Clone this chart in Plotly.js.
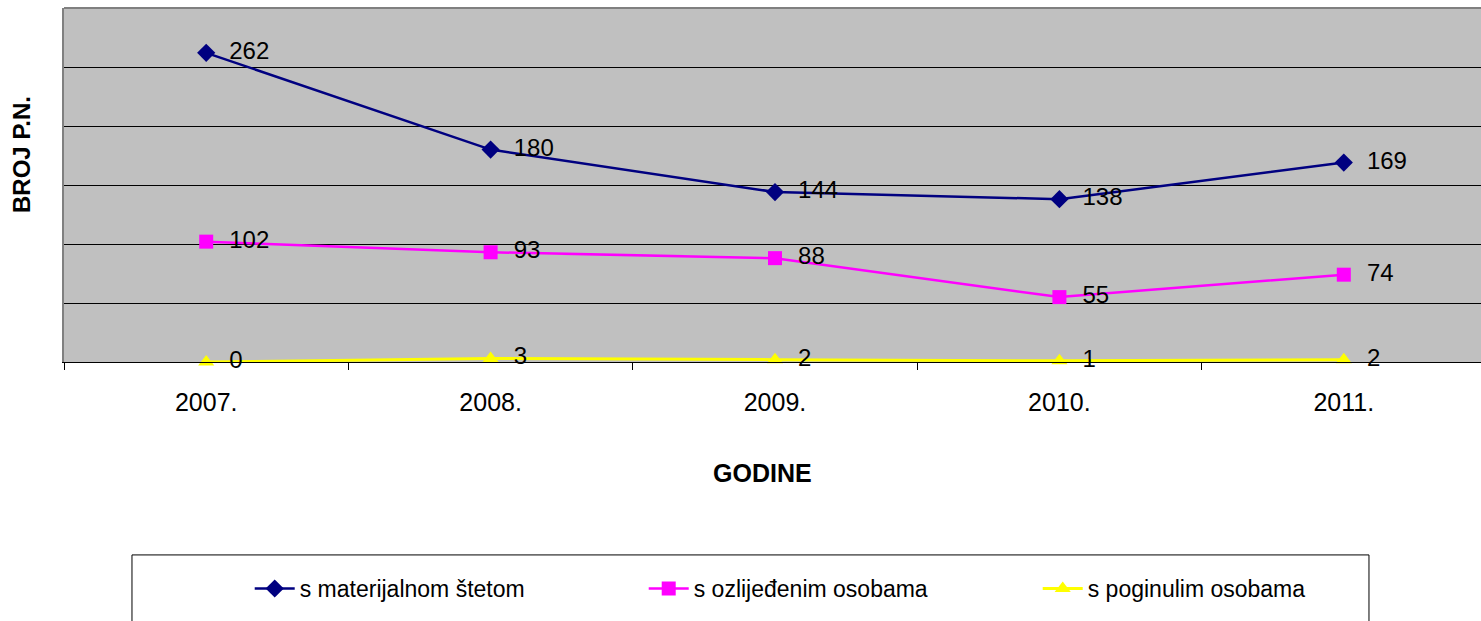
<!DOCTYPE html>
<html>
<head>
<meta charset="utf-8">
<script src="https://cdn.plot.ly/plotly-3.0.1.min.js"></script>
<style>
html,body{margin:0;padding:0;overflow:hidden;background:#fff;}
#chart{width:1486px;height:621px;}
</style>
</head>
<body>
<div id="chart"></div>
<script>
var years = ['2007.', '2008.', '2009.', '2010.', '2011.'];
var seriesNames = ['s materijalnom štetom', 's ozlijeđenim osobama', 's poginulim osobama'];
var materijalnom = [262, 180, 144, 138, 169];
var ozlijedenim = [102, 93, 88, 55, 74];
var poginulim = [0, 3, 2, 1, 2];

var FONT = 'Liberation Sans, Arial, sans-serif';

function mk(name, vals, color, symbol, msize, lw) {
  return {
    type: 'scatter', mode: 'lines+markers+text',
    name: name, x: years, y: vals,
    text: vals.map(function (v) { return '\u00A0\u00A0' + v; }), textposition: 'middle right',
    textfont: {family: FONT, size: 24, color: '#000'},
    line: {color: color, width: lw},
    marker: {color: color, symbol: symbol, size: msize},
    cliponaxis: false
  };
}

var data = [
  mk(seriesNames[0], materijalnom, '#000080', 'diamond', 14, 2.5),
  mk(seriesNames[1], ozlijedenim, '#FF00FF', 'square', 14, 2.5),
  mk(seriesNames[2], poginulim, '#FFFF00', 'triangle-up', 14, 3)
];

var layout = {
  width: 1486, height: 621,
  margin: {l: 64, r: 0, t: 8, b: 259},
  paper_bgcolor: '#fff', plot_bgcolor: '#C0C0C0',
  font: {family: FONT, size: 23, color: '#000'},
  showlegend: true,
  legend: {
    orientation: 'h', x: 0.1306, xanchor: 'left', y: -0.64, yanchor: 'middle',
    bgcolor: 'rgba(0,0,0,0)', borderwidth: 0,
    font: {family: FONT, size: 23, color: '#000'},
    itemwidth: 40,
    entrywidth: 339, entrywidthmode: 'pixels', traceorder: 'normal'
  },
  xaxis: {
    type: 'category', range: [-0.5, 4.5], fixedrange: true,
    showgrid: false, zeroline: false,
    showline: true, linecolor: '#000', linewidth: 1,
    ticks: 'outside', tickson: 'boundaries', ticklen: 7, tickcolor: '#000', tickwidth: 1,
    tickfont: {family: FONT, size: 25, color: '#000'},
    ticklabelstandoff: 18
  },
  yaxis: {
    range: [0, 300], dtick: 50, fixedrange: true,
    showticklabels: false, ticks: '',
    showgrid: true, gridcolor: '#000', gridwidth: 1,
    zeroline: true, zerolinecolor: '#000', zerolinewidth: 1,
    showline: true, linecolor: '#808080', linewidth: 2
  },
  shapes: [
    {type: 'line', xref: 'paper', yref: 'paper', x0: 0, x1: 1, y0: 1, y1: 1,
     line: {color: '#808080', width: 2}},
    {type: 'rect', xref: 'paper', yref: 'paper', x0: 0.0478, x1: 0.9177, y0: -0.545, y1: -0.8,
     line: {color: '#000', width: 1}, fillcolor: 'rgba(0,0,0,0)'}
  ],
  annotations: [
    {text: '<b>BROJ P.N.</b>', xref: 'paper', yref: 'paper', x: -0.0295, y: 0.585,
     textangle: -90, showarrow: false, font: {family: FONT, size: 24, color: '#000'},
     xanchor: 'center', yanchor: 'middle'},
    {text: '<b>GODINE</b>', xref: 'paper', yref: 'paper', x: 0.491, y: -0.3136,
     showarrow: false, font: {family: FONT, size: 25, color: '#000'},
     xanchor: 'center', yanchor: 'middle'}
  ]
};

Plotly.newPlot('chart', data, layout, {displayModeBar: false, staticPlot: true});
</script>
</body>
</html>
